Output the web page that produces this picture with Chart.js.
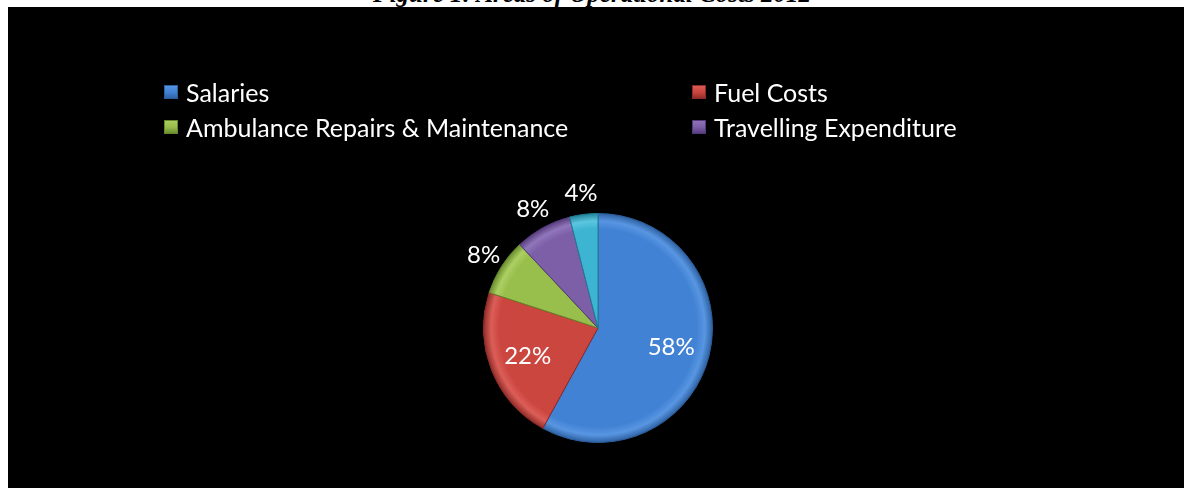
<!DOCTYPE html>
<html>
<head>
<meta charset="utf-8">
<script src="https://cdn.jsdelivr.net/npm/chart.js"></script>
<style>
  html, body { margin: 0; padding: 0; background: #fff; width: 1184px; height: 488px; overflow: hidden; }
  #title { position: absolute; left: 0; width: 1184px; top: -19px; text-align: center;
    font-family: "Liberation Serif", "Times New Roman", serif; font-weight: bold; font-style: italic;
    font-size: 25px; line-height: 25px; color: #000; }
  #panel { position: absolute; left: 8px; top: 7px; width: 1176px; height: 481px; background: #000; }
  #chart { position: absolute; left: 0; top: 0; }
  #legend { position: absolute; left: 0; top: 0; width: 1176px; height: 150px;
    font-family: Lato, "Open Sans", sans-serif; font-size: 25px; color: #fff; }
  .item { position: absolute; white-space: nowrap; line-height: 28px; }
  .box { position: absolute; width: 14px; height: 14px; top: 7px; left: 0; }
  .txt { position: absolute; left: 22px; top: 0; }
</style>
</head>
<body>
<div id="title">Figure 1: Areas of Operational Costs 2012</div>
<div id="panel">
  <canvas id="chart" width="1176" height="481"></canvas>
  <div id="legend"></div>
</div>
<script>
// ---- data ----
const categories = ["Salaries", "Fuel Costs", "Ambulance Repairs & Maintenance", "Travelling Expenditure", "Others"];
const shares = [58, 22, 8, 8, 4];
const legendLabels = ["Salaries", "Fuel Costs", "Ambulance Repairs & Maintenance", "Travelling Expenditure"];
const baseColors = ["#4282d4", "#cc4640", "#98be4c", "#7d5fa8", "#3cb4d2"];
const edgeColors = ["#2c5e9e", "#8c2a26", "#66882c", "#54397a", "#1f7f96"];
const lightColors = ["#5896e2", "#dc5e58", "#acd062", "#9076ba", "#5cc6e0"];

// ---- legend (HTML, from arrays) ----
const legendPos = [[156, 71], [684, 71], [156, 106], [684, 106]];
const legendEl = document.getElementById('legend');
legendLabels.forEach((lab, i) => {
  const it = document.createElement('div');
  it.className = 'item';
  it.style.left = legendPos[i][0] + 'px';
  it.style.top = legendPos[i][1] + 'px';
  const b = document.createElement('div');
  b.className = 'box';
  b.style.background = `linear-gradient(180deg, ${lightColors[i]} 0%, ${baseColors[i]} 50%, ${edgeColors[i]} 100%)`;
  b.style.boxShadow = `inset 0 0 0 1px ${edgeColors[i]}`;
  const t = document.createElement('span');
  t.className = 'txt';
  t.textContent = lab;
  it.appendChild(b); it.appendChild(t);
  legendEl.appendChild(it);
});

// ---- bevel-like gradient per slice ----
function sliceFill(ctx) {
  const chart = ctx.chart;
  const a = chart.chartArea;
  const i = ctx.dataIndex;
  if (!a) return baseColors[i];
  const cx = (a.left + a.right) / 2, cy = (a.top + a.bottom) / 2;
  const r = Math.min(a.right - a.left, a.bottom - a.top) / 2;
  const g = chart.ctx.createRadialGradient(cx, cy, 0, cx, cy, r);
  g.addColorStop(0, baseColors[i]);
  g.addColorStop(0.86, baseColors[i]);
  g.addColorStop(0.93, lightColors[i]);
  g.addColorStop(1, edgeColors[i]);
  return g;
}

// ---- data labels ----
const labelPlugin = {
  id: 'pctLabels',
  afterDatasetsDraw(chart) {
    const c = chart.ctx;
    const meta = chart.getDatasetMeta(0);
    c.save();
    c.font = '24px Lato, "Open Sans", sans-serif';
    c.fillStyle = '#fff';
    c.textAlign = 'center';
    c.textBaseline = 'middle';
    meta.data.forEach((arc, i) => {
      const p = arc.getProps(['x', 'y', 'startAngle', 'endAngle', 'outerRadius'], true);
      const mid = (p.startAngle + p.endAngle) / 2;
      const v = shares[i];
      const d = v >= 15 ? p.outerRadius * 0.66 : p.outerRadius + 21;
      c.fillText(v + '%', p.x + Math.cos(mid) * d, p.y + Math.sin(mid) * d);
    });
    c.restore();
  }
};

new Chart(document.getElementById('chart'), {
  type: 'pie',
  data: {
    labels: categories,
    datasets: [{
      data: shares,
      backgroundColor: sliceFill,
      borderColor: edgeColors,
      borderWidth: 1,
      hoverOffset: 0
    }]
  },
  options: {
    responsive: false,
    animation: false,
    layout: { padding: { left: 475, right: 471, top: 206, bottom: 45 } },
    plugins: { legend: { display: false }, tooltip: { enabled: false } }
  },
  plugins: [labelPlugin]
});
</script>
</body>
</html>
